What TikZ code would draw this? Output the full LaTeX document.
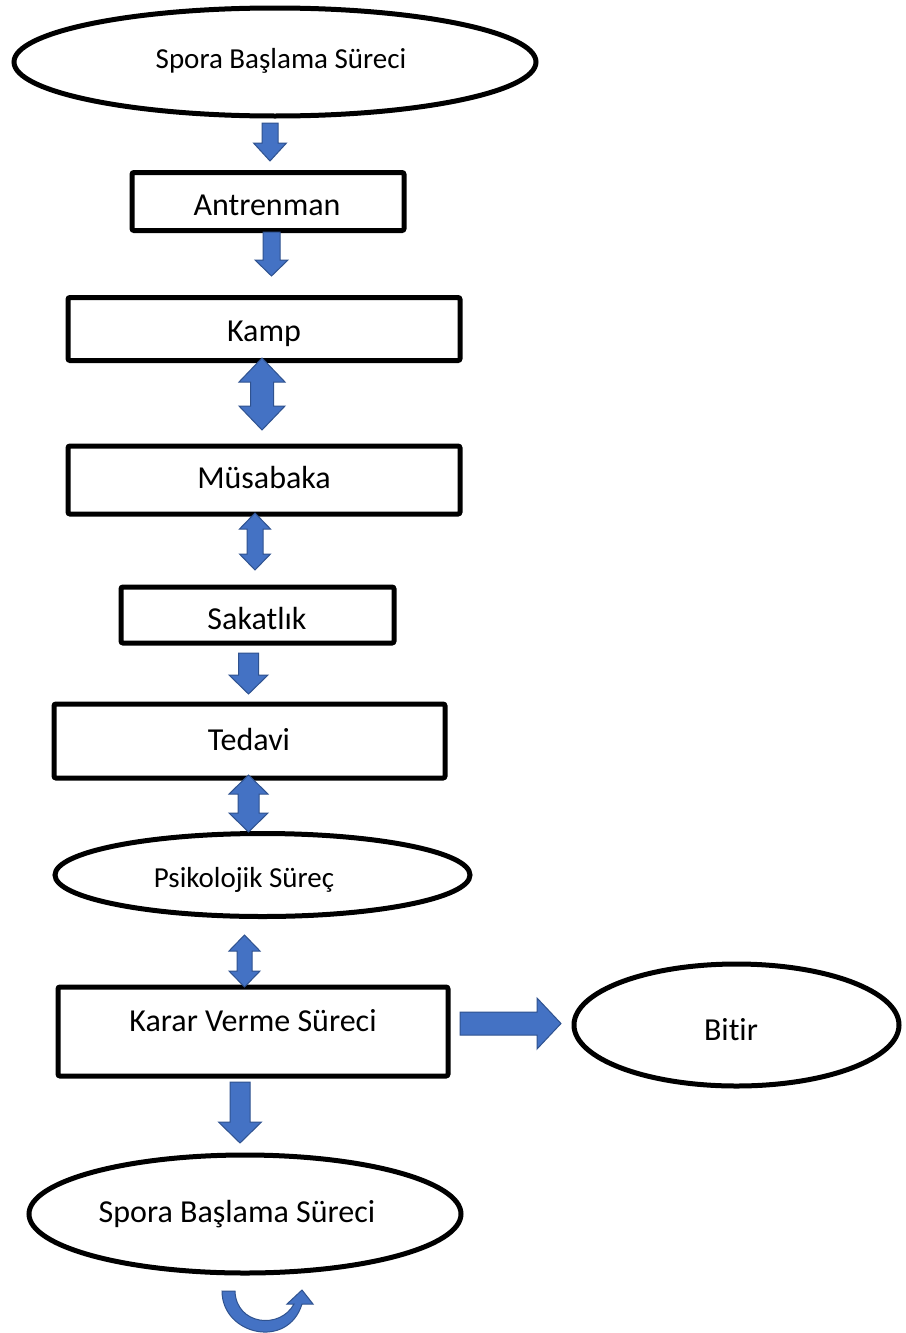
\documentclass[tikz,border=0pt]{standalone}
\usepackage{fontspec}
\setmainfont{Carlito}[Ligatures={NoCommon,NoRequired,NoContextual}]
\usetikzlibrary{shapes.geometric}
\definecolor{arrfill}{HTML}{4472C4}
\definecolor{arrline}{HTML}{2F528F}
\tikzset{
 box/.style={draw=black, line width=5pt, rounded corners=2pt, inner sep=0pt},
 oval/.style={draw=black, line width=5pt, ellipse, inner sep=0pt},
 txt/.style={font=\fontsize{32}{38}\selectfont, inner sep=0pt, text height=20pt, text depth=0pt},
 txts/.style={txt, font=\fontsize{29}{35}\selectfont, text height=18pt},
 blk/.style={fill=arrfill, draw=arrline, line width=1pt, line join=miter},
}
% single arrow pointing down: cx, ytop, ytip, shaft half, head half, head length
\newcommand\sarrowdown[6]{\draw[blk] (#1-#4,#2) -- (#1+#4,#2) -- (#1+#4,#3-#6) -- (#1+#5,#3-#6) -- (#1,#3) -- (#1-#5,#3-#6) -- (#1-#4,#3-#6) -- cycle;}
% double vertical arrow: cx, ytop, ybot, shaft half, head half, head length
\newcommand\darrowv[6]{\draw[blk] (#1,#2) -- (#1+#5,#2+#6) -- (#1+#4,#2+#6) -- (#1+#4,#3-#6) -- (#1+#5,#3-#6) -- (#1,#3) -- (#1-#5,#3-#6) -- (#1-#4,#3-#6) -- (#1-#4,#2+#6) -- (#1-#5,#2+#6) -- cycle;}
\begin{document}
\begin{tikzpicture}[x=1pt,y=-1pt]
\fill[white] (0,0) rectangle (905,1333);
\useasboundingbox (0,0) rectangle (905,1333);

% shapes
\node[oval, minimum width=522pt, minimum height=108pt] (top) at (275,62) {};
\node[box, minimum width=272pt, minimum height=58pt] (antr) at (268,201.5) {};
\node[box, minimum width=392pt, minimum height=63pt] (kamp) at (264,329) {};
\node[box, minimum width=392pt, minimum height=68pt] (mus) at (264,480) {};
\node[box, minimum width=273pt, minimum height=56pt] (sak) at (257.5,615) {};
\node[box, minimum width=391pt, minimum height=74pt] (ted) at (249.5,741) {};
\node[oval, minimum width=415pt, minimum height=83pt] (psy) at (262.5,875) {};
\node[box, minimum width=390pt, minimum height=89pt] (karar) at (253,1031.5) {};
\node[oval, minimum width=325pt, minimum height=122pt] (bitir) at (736.5,1025) {};
\node[oval, minimum width=432pt, minimum height=118pt] (son) at (245,1214) {};

% texts
\node[txts] (topt) at (281,59) {Spora Başlama Süreci};
\node[txt] (antrt) at (267,205) {Antrenman};
\node[txt] (kampt) at (264,331) {Kamp};
\node[txt] (must) at (264,478) {Müsabaka};
\node[txt] (sakt) at (257,619) {Sakatlık};
\node[txt] (tedt) at (249,740) {Tedavi};
\node[txts] (psyt) at (244,878) {Psikolojik Süreç};
\node[txt] (karart) at (253,1021) {Karar Verme Süreci};
\node[txt] (bitirt) at (731,1030) {Bitir};
\node[txt] (sont) at (237,1212) {Spora Başlama Süreci};

% block arrows
\sarrowdown{270}{123}{161}{8}{16.5}{18}
\sarrowdown{271.5}{232}{276}{8.5}{16.5}{16}
\darrowv{262}{358}{430}{11.5}{23}{24}
\darrowv{255}{513}{570}{8}{15.5}{16}
\sarrowdown{248.5}{653}{694}{10}{19.5}{19}
\darrowv{248.5}{775}{832}{10.5}{19.5}{19}
\darrowv{244.5}{935}{987}{7.5}{15.5}{16}
\draw[blk] (460,1012) -- (537,1012) -- (537,998) -- (561,1023.5) -- (537,1049) -- (537,1035) -- (460,1035) -- cycle;
\sarrowdown{240}{1082}{1143}{10}{21.5}{21}

% curved U-turn arrow
\draw[blk] (222,1291) .. controls (222,1335) and (288,1350) .. (302,1304)
  -- (313,1304) -- (302,1290) -- (287,1304) -- (294,1304)
  .. controls (280,1330) and (236,1325) .. (235,1291) -- cycle;
\end{tikzpicture}
\end{document}
